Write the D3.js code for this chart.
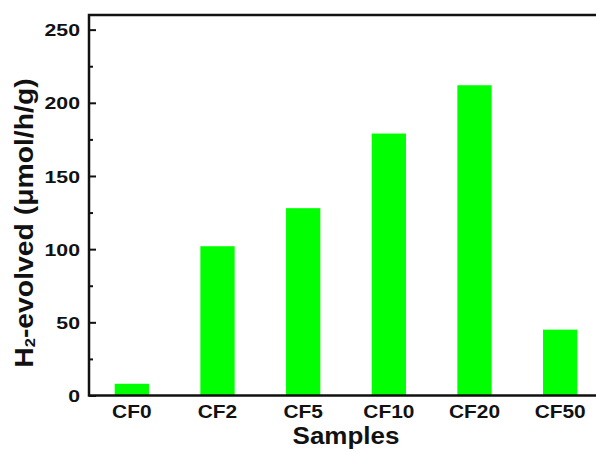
<!DOCTYPE html>
<html>
<head>
<meta charset="utf-8">
<script src="https://cdn.jsdelivr.net/npm/d3@7"></script>
<style>
  body { margin: 0; background: #fff; }
  svg { display: block; font-family: "Liberation Sans", Arial, sans-serif; font-weight: bold; }
</style>
</head>
<body>
<svg id="chart" width="596" height="452"></svg>
<script>
const samples = ["CF0", "CF2", "CF5", "CF10", "CF20", "CF50"];
const h2Evolved = [8, 102, 128, 179, 212, 45];
const majorTicks = [0, 50, 100, 150, 200, 250];
const minorTicks = [25, 75, 125, 175, 225];

const svg = d3.select("#chart");
const plotLeft = 89, plotRight = 603, plotTop = 15, plotBottom = 395.5;

const x = d3.scaleBand()
  .domain(samples)
  .range([plotLeft, plotRight])
  .paddingInner(0.6)
  .paddingOuter(0.3);

const y = d3.scaleLinear()
  .domain([0, 260])
  .range([plotBottom, plotTop]);

// bars
svg.append("g")
  .selectAll("rect")
  .data(samples)
  .join("rect")
  .attr("x", d => x(d))
  .attr("width", x.bandwidth())
  .attr("y", (d, i) => y(h2Evolved[i]))
  .attr("height", (d, i) => y(0) - y(h2Evolved[i]))
  .attr("fill", "#00ff00");

// frame
svg.append("rect")
  .attr("x", plotLeft)
  .attr("y", plotTop)
  .attr("width", plotRight - plotLeft)
  .attr("height", plotBottom - plotTop)
  .attr("fill", "none")
  .attr("stroke", "#111")
  .attr("stroke-width", 2.5);

// y axis, ticks point inwards
const yAxis = svg.append("g")
  .attr("transform", `translate(${plotLeft},0)`)
  .call(d3.axisLeft(y).tickValues(majorTicks).tickSize(-7).tickPadding(0));
yAxis.select(".domain").remove();
yAxis.selectAll(".tick line").attr("stroke", "#111").attr("stroke-width", 2);
yAxis.selectAll(".tick text")
  .attr("x", 0)
  .attr("dy", "0.36em")
  .attr("transform", "translate(-9,0) scale(1.25,1)")
  .attr("font-size", 17)
  .attr("font-family", null)
  .attr("fill", "#111");

const yMinor = svg.append("g")
  .attr("transform", `translate(${plotLeft},0)`)
  .call(d3.axisLeft(y).tickValues(minorTicks).tickSize(-4).tickFormat(""));
yMinor.select(".domain").remove();
yMinor.selectAll(".tick line").attr("stroke", "#111").attr("stroke-width", 2);

// x axis
const xAxis = svg.append("g")
  .attr("transform", `translate(0,${plotBottom})`)
  .call(d3.axisBottom(x).tickSize(0).tickPadding(0));
xAxis.select(".domain").remove();
xAxis.selectAll(".tick text")
  .attr("y", 0)
  .attr("dy", null)
  .attr("transform", "translate(0,22.5) scale(1.16,1)")
  .attr("font-size", 18)
  .attr("font-family", null)
  .attr("fill", "#111");

// axis titles
svg.append("text")
  .attr("transform", `translate(${(plotLeft + plotRight) / 2},444) scale(1.13,1)`)
  .attr("text-anchor", "middle")
  .attr("font-size", 23)
  .attr("fill", "#111")
  .text("Samples");

const yTitle = svg.append("text")
  .attr("transform", "translate(33,223) rotate(-90) scale(1.09,1)")
  .attr("text-anchor", "middle")
  .attr("font-size", 26)
  .attr("fill", "#111");
yTitle.append("tspan").text("H");
yTitle.append("tspan").attr("font-size", 15).attr("dy", 2).text("2");
yTitle.append("tspan").attr("dy", -2).text("-evolved (\u03bcmol/h/g)");
</script>
</body>
</html>
